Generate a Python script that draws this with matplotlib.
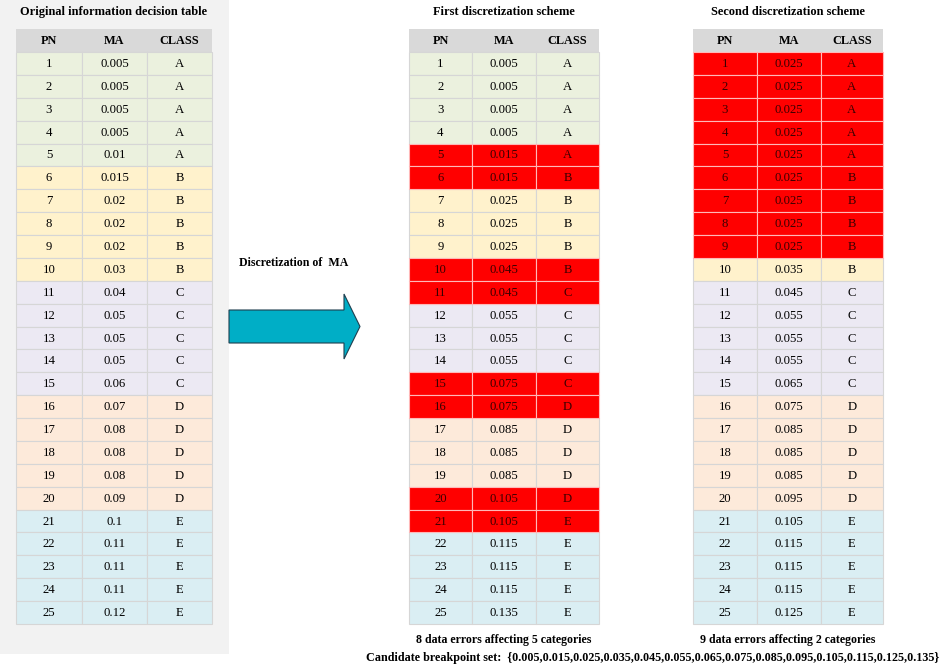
import matplotlib
matplotlib.use("Agg")
import matplotlib.pyplot as plt
from matplotlib.patches import Rectangle, FancyArrow

# ---------------- data ----------------
pn = list(range(1, 26))
classes = ["A"] * 5 + ["B"] * 5 + ["C"] * 5 + ["D"] * 5 + ["E"] * 5
ma_original = ["0.005", "0.005", "0.005", "0.005", "0.01",
               "0.015", "0.02", "0.02", "0.02", "0.03",
               "0.04", "0.05", "0.05", "0.05", "0.06",
               "0.07", "0.08", "0.08", "0.08", "0.09",
               "0.1", "0.11", "0.11", "0.11", "0.12"]
ma_first = ["0.005", "0.005", "0.005", "0.005", "0.015",
            "0.015", "0.025", "0.025", "0.025", "0.045",
            "0.045", "0.055", "0.055", "0.055", "0.075",
            "0.075", "0.085", "0.085", "0.085", "0.105",
            "0.105", "0.115", "0.115", "0.115", "0.135"]
ma_second = ["0.025", "0.025", "0.025", "0.025", "0.025",
             "0.025", "0.025", "0.025", "0.025", "0.035",
             "0.045", "0.055", "0.055", "0.055", "0.065",
             "0.075", "0.085", "0.085", "0.085", "0.095",
             "0.105", "0.115", "0.115", "0.115", "0.125"]
errors_first = [5, 6, 10, 11, 15, 16, 20, 21]
errors_second = [1, 2, 3, 4, 5, 6, 7, 8, 9]
headers = ["PN", "MA", "CLASS"]
titles = ["Original information decision table",
          "First discretization scheme",
          "Second discretization scheme"]
captions = ["", "8 data errors affecting 5 categories",
            "9 data errors affecting 2 categories"]
arrow_label = "Discretization of  MA"
breakpoints = [0.005, 0.015, 0.025, 0.035, 0.045, 0.055, 0.065,
               0.075, 0.085, 0.095, 0.105, 0.115, 0.125, 0.135]

# ---------------- styling ----------------
class_colors = {"A": "#EBF1DE", "B": "#FFF2CC", "C": "#ECE9F3",
                "D": "#FDEADA", "E": "#DAEEF3"}
RED = "#FF0000"
HEADER = "#D9D9D9"
FONT = "Liberation Serif"
BOLD_FS = 8.6

W, H = 941, 667
fig = plt.figure(figsize=(W / 100, H / 100), dpi=100)
ax = fig.add_axes([0, 0, 1, 1])
ax.set_xlim(0, W)
ax.set_ylim(H, 0)
ax.axis("off")

# grey panel behind the original table
ax.add_patch(Rectangle((0, 0), 229, 654, facecolor="#F2F2F2", edgecolor="none", zorder=0))

header_top = 29
header_h = 23
row_h = (624 - 52) / 25

tables = [
    (ma_original, [], [16, 82, 147, 212]),
    (ma_first, errors_first, [409, 472, 536, 599]),
    (ma_second, errors_second, [693, 757, 821, 883]),
]

for t, (ma, errs, xs) in enumerate(tables):
    cx = (xs[0] + xs[-1]) / 2
    ax.text(cx, 12, titles[t], ha="center", va="center", fontsize=8.9,
            fontweight="bold", family=FONT, zorder=5)
    # header
    for c in range(3):
        ax.add_patch(Rectangle((xs[c], header_top), xs[c + 1] - xs[c], header_h,
                               facecolor=HEADER, edgecolor="none", zorder=1))
        ax.text((xs[c] + xs[c + 1]) / 2, header_top + header_h / 2, headers[c],
                ha="center", va="center", fontsize=8.8, fontweight="bold",
                family=FONT, zorder=5)
    # rows
    for i in range(25):
        y0 = header_top + header_h + i * row_h
        is_err = pn[i] in errs
        fc = RED if is_err else class_colors[classes[i]]
        ec = "#FFB8B8" if is_err else "#D6D6D6"
        tc = "#3A0000" if is_err else "black"
        vals = [str(pn[i]), ma[i], classes[i]]
        for c in range(3):
            ax.add_patch(Rectangle((xs[c], y0), xs[c + 1] - xs[c], row_h,
                                   facecolor=fc, edgecolor=ec, linewidth=0.8,
                                   zorder=2 if not is_err else 3))
            ax.text((xs[c] + xs[c + 1]) / 2, y0 + row_h / 2 + 0.5, vals[c],
                    ha="center", va="center", fontsize=9.2, family=FONT,
                    color=tc, zorder=5)
    if captions[t]:
        ax.text(cx, 640, captions[t], ha="center", va="center", fontsize=BOLD_FS,
                fontweight="bold", family=FONT, zorder=5)

# arrow
ax.add_patch(FancyArrow(229, 326.5, 131, 0, width=33, head_width=65,
                        head_length=16, length_includes_head=True,
                        facecolor="#00AEC6", edgecolor="#1F3F4F",
                        linewidth=0.8, zorder=4))
ax.text(239, 263, arrow_label, ha="left", va="center", fontsize=BOLD_FS,
        fontweight="bold", family=FONT, zorder=5)

bp_text = "Candidate breakpoint set:  {" + ",".join(f"{b:.3f}" for b in breakpoints) + "}"
ax.text(653, 658, bp_text, ha="center", va="center", fontsize=8.75,
        fontweight="bold", family=FONT, zorder=5)

fig.savefig("out.png", dpi=100)
